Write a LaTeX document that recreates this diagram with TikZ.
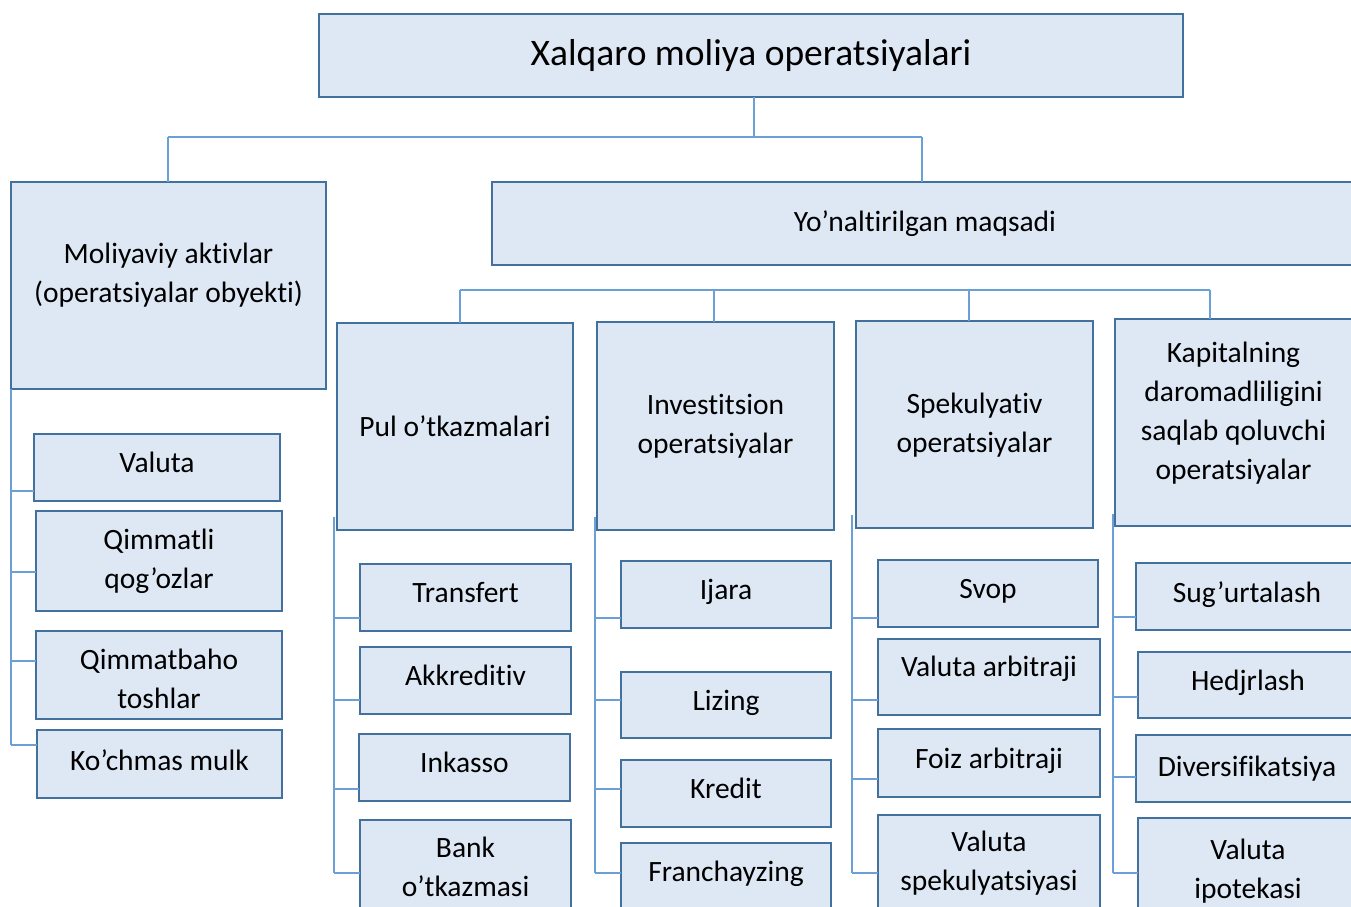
\documentclass[tikz,border=0pt]{standalone}
\usepackage{fontspec}
\setmainfont{Carlito}[Ligatures=NoCommon]
\definecolor{boxfill}{HTML}{DEE8F5}
\definecolor{boxline}{HTML}{41719C}
\definecolor{connline}{HTML}{6A9FD8}
\tikzset{
  box/.style={draw=boxline, line width=2.7pt, fill=boxfill, align=center,
    inner sep=0pt, outer sep=0pt, anchor=north west,
    font=\fontsize{29.5}{39}\selectfont},
  titlebox/.style={box, font=\fontsize{37.5}{44}\selectfont},
  tb/.style 2 args={text height=#1pt, text depth=#2pt},
  conn/.style={draw=connline, line width=1.4pt},
}
\begin{document}
\begin{tikzpicture}[x=1pt,y=-1pt]
\path[use as bounding box, clip] (0,0) rectangle (1351,906);
\fill[white] (0,0) rectangle (1351,906);

\coordinate (b1l) at (168,137);
\coordinate (b1m) at (754,137);
\coordinate (b1r) at (922,137);
\coordinate (b2l) at (460,290);
\coordinate (b2b) at (714,290);
\coordinate (b2c) at (969,290);
\coordinate (b2r) at (1210,290);

% top level
\node[titlebox, minimum width=864pt, minimum height=83pt, tb={51.7}{31.3}] (top) at (319,14) {Xalqaro moliya operatsiyalari};
\node[box, minimum width=315pt, minimum height=207pt, tb={120}{87}] (moliya) at (11,182) {Moliyaviy aktivlar\\(operatsiyalar obyekti)};
\node[box, minimum width=866pt, minimum height=83pt, tb={49.7}{33.3}] (yon) at (492,182) {Yo’naltirilgan maqsadi};

% second level
\node[box, minimum width=236pt, minimum height=207pt, tb={113}{94}] (pul) at (337,323) {Pul o’tkazmalari};
\node[box, minimum width=237pt, minimum height=208pt, tb={131.5}{76.5}] (inv) at (597,322) {Investitsion\\operatsiyalar};
\node[box, minimum width=237pt, minimum height=207pt, tb={131}{76}] (spek) at (856,321) {Spekulyativ\\operatsiyalar};
\node[box, minimum width=237pt, minimum height=207pt, tb={160}{47}] (kap) at (1115,319) {Kapitalning\\daromadliligini\\saqlab qoluvchi\\operatsiyalar};

% left items
\node[box, minimum width=246pt, minimum height=67pt, tb={38.7}{28.3}] (valuta) at (34,434) {Valuta};
\node[box, minimum width=246pt, minimum height=100pt, tb={77.3}{22.7}] (qimmatli) at (36,511) {Qimmatli\\qog’ozlar};
\node[box, minimum width=246pt, minimum height=88pt, tb={77.3}{10.7}] (qtosh) at (36,631) {Qimmatbaho\\toshlar};
\node[box, minimum width=245pt, minimum height=68pt, tb={40}{28}] (kochmas) at (37,730) {Ko’chmas mulk};

% pul items
\node[box, minimum width=211pt, minimum height=67pt, tb={38.7}{28.3}] (transfert) at (360,564) {Transfert};
\node[box, minimum width=211pt, minimum height=67pt, tb={38.7}{28.3}] (akkred) at (360,647) {Akkreditiv};
\node[box, minimum width=211pt, minimum height=67pt, tb={38.7}{28.3}] (inkasso) at (359,734) {Inkasso};
\node[box, minimum width=211pt, minimum height=96pt, tb={76.7}{19.3}] (bank) at (360,820) {Bank\\o’tkazmasi};

% investitsion items
\node[box, minimum width=210pt, minimum height=67pt, tb={38.3}{28.7}] (ijara) at (621,561) {Ijara};
\node[box, minimum width=210pt, minimum height=66pt, tb={38}{28}] (lizing) at (621,672) {Lizing};
\node[box, minimum width=210pt, minimum height=67pt, tb={38.3}{28.7}] (kredit) at (621,760) {Kredit};
\node[box, minimum width=210pt, minimum height=68pt, tb={38}{30}] (franch) at (621,843) {Franchayzing};

% spekulyativ items
\node[box, minimum width=220pt, minimum height=67pt, tb={38.3}{28.7}] (svop) at (878,560) {Svop};
\node[box, minimum width=222pt, minimum height=76pt, tb={37.7}{38.3}] (varb) at (878,639) {Valuta arbitraji};
\node[box, minimum width=222pt, minimum height=68pt, tb={39.3}{28.7}] (foiz) at (878,729) {Foiz arbitraji};
\node[box, minimum width=222pt, minimum height=96pt, tb={75}{21}] (vspek) at (878,815) {Valuta\\spekulyatsiyasi};

% kapital items
\node[box, minimum width=222pt, minimum height=67pt, tb={39}{28}] (sug) at (1136,563) {Sug’urtalash};
\node[box, minimum width=220pt, minimum height=66pt, tb={38.8}{27.2}] (hedj) at (1138,652) {Hedjrlash};
\node[box, minimum width=222pt, minimum height=67pt, tb={41}{26}] (divers) at (1136,735) {Diversifikatsiya};
\node[box, minimum width=220pt, minimum height=98pt, tb={80}{18}] (vipot) at (1138,818) {Valuta\\ipotekasi};

% top connectors
\draw[conn] (top.south -| b1m) -- (b1m);
\draw[conn] (b1l) -- (b1r);
\draw[conn] (b1l) -- (b1l |- moliya.north);
\draw[conn] (b1r) -- (b1r |- yon.north);

% second bus
\draw[conn] (b2l) -- (b2r);
\draw[conn] (b2l) -- (b2l |- pul.north);
\draw[conn] (b2b) -- (b2b |- inv.north);
\draw[conn] (b2c) -- (b2c |- spek.north);
\draw[conn] (b2r) -- (b2r |- kap.north);

% left column
\draw[conn] (moliya.south west) -- (11,745);
\draw[conn] (11,491) -- (valuta.west |- 0,491);
\draw[conn] (11,572) -- (qimmatli.west |- 0,572);
\draw[conn] (11,661) -- (qtosh.west |- 0,661);
\draw[conn] (11,745) -- (kochmas.west |- 0,745);

% pul column
\draw[conn] (334,517) -- (334,873);
\draw[conn] (334,618) -- (transfert.west |- 0,618);
\draw[conn] (334,700) -- (akkred.west |- 0,700);
\draw[conn] (334,789) -- (inkasso.west |- 0,789);
\draw[conn] (334,873) -- (bank.west |- 0,873);

% investitsion column
\draw[conn] (595,517) -- (595,873);
\draw[conn] (595,618) -- (ijara.west |- 0,618);
\draw[conn] (595,700) -- (lizing.west |- 0,700);
\draw[conn] (595,789) -- (kredit.west |- 0,789);
\draw[conn] (595,873) -- (franch.west |- 0,873);

% spekulyativ column
\draw[conn] (852,515) -- (852,873);
\draw[conn] (852,618) -- (svop.west |- 0,618);
\draw[conn] (852,700) -- (varb.west |- 0,700);
\draw[conn] (852,779) -- (foiz.west |- 0,779);
\draw[conn] (852,873) -- (vspek.west |- 0,873);

% kapital column
\draw[conn] (1113,514) -- (1113,873);
\draw[conn] (1113,617) -- (sug.west |- 0,617);
\draw[conn] (1113,697) -- (hedj.west |- 0,697);
\draw[conn] (1113,777) -- (divers.west |- 0,777);
\draw[conn] (1113,873) -- (vipot.west |- 0,873);
\end{tikzpicture}
\end{document}
